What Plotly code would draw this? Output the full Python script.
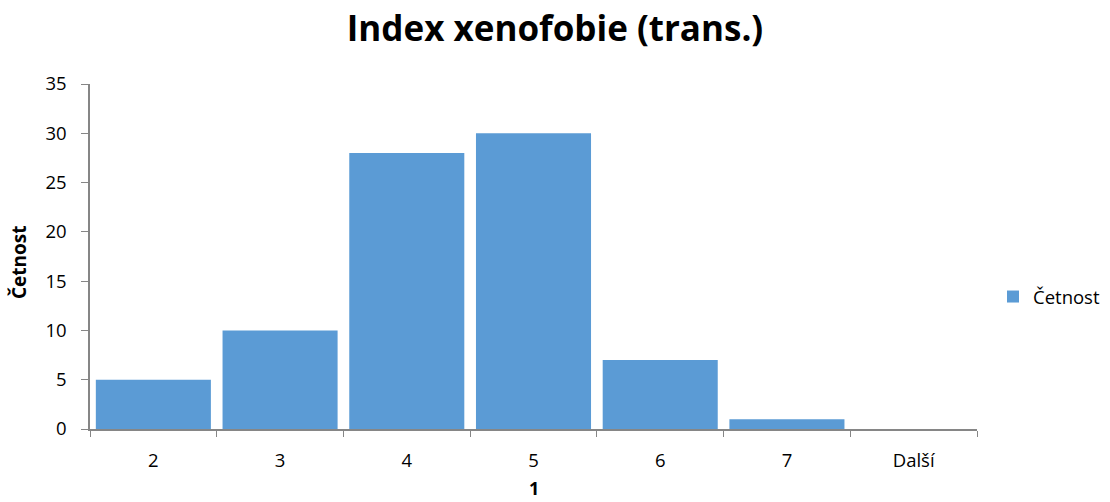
import plotly.graph_objects as go

categories = ["2", "3", "4", "5", "6", "7", "Další"]
counts = [5, 10, 28, 30, 7, 1, 0]
y_ticks = [0, 5, 10, 15, 20, 25, 30, 35]

font = "Open Sans, Lato, sans-serif"
axis_col = "#868686"

L, R, T, B = 90, 133, 84, 73
W, H = 1110, 502
pw, ph = W - L - R, H - T - B

fig = go.Figure(go.Bar(x=categories, y=counts, name="Četnost",
                       marker=dict(color="#5B9BD5", line=dict(width=0)),
                       showlegend=True))

fig.update_layout(
    width=W, height=H,
    paper_bgcolor="white", plot_bgcolor="white",
    margin=dict(l=L, r=R, t=T, b=B, autoexpand=False),
    bargap=0.092,
    font=dict(family=font, size=18, color="#000000"),
    title=dict(text="<b>Index xenofobie (trans.)</b>", x=555 / W, xanchor="center",
               y=1 - 28.5 / H, yanchor="middle",
               font=dict(family=font, size=35, color="#000000")),
    legend=dict(xref="container", yref="container", x=993 / W, xanchor="left",
                y=1 - 297 / H, yanchor="middle",
                font=dict(family=font, size=18.5), itemwidth=30,
                bgcolor="rgba(0,0,0,0)"),
    xaxis=dict(type="category", tickson="boundaries", ticks="outside", ticklen=6,
               tickcolor=axis_col, showline=True, linecolor=axis_col, linewidth=1.5,
               showgrid=False, tickfont=dict(size=18.5), ticklabelstandoff=14),
    yaxis=dict(range=[0, 35], tickvals=y_ticks, ticks="outside", ticklen=7,
               tickcolor=axis_col, showline=True, linecolor=axis_col, linewidth=1.5,
               showgrid=False, zeroline=False, tickfont=dict(size=18.5),
               ticklabelstandoff=11),
    annotations=[
        dict(text="<b>1</b>", xref="paper", yref="paper", x=0.5,
             y=-(488 - (H - B)) / ph, xanchor="center", yanchor="middle",
             showarrow=False, font=dict(family=font, size=18)),
        dict(text="<b>Četnost</b>", xref="paper", yref="paper",
             x=(19 - L) / pw, y=((H - B) - 262) / ph, xanchor="center",
             yanchor="middle", textangle=-90, showarrow=False,
             font=dict(family=font, size=19)),
    ],
)

fig.write_html("out.html", config={"displayModeBar": False},
               post_script="document.body.style.margin='0';document.body.style.overflow='hidden';")
